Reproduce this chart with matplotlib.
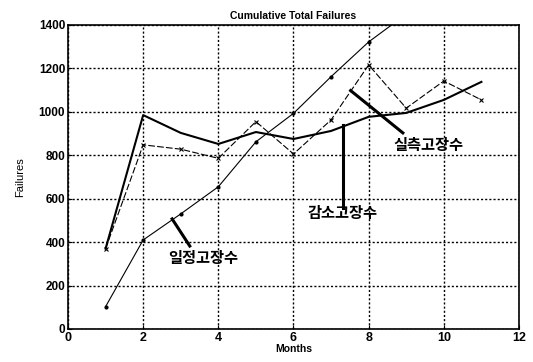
import matplotlib
matplotlib.use("Agg")
import matplotlib.pyplot as plt

months = [1, 2, 3, 4, 5, 6, 7, 8, 9, 10, 11]
decrease = [370, 985, 903, 852, 907, 875, 912, 977, 995, 1055, 1138]
measured = [370, 848, 828, 786, 955, 806, 963, 1216, 1017, 1142, 1055]
const_months = [1, 2, 3, 4, 5, 6, 7, 8, 9]
constant = [103, 410, 530, 655, 862, 993, 1162, 1322, 1450]

xticks = [0, 2, 4, 6, 8, 10, 12]
yticks = [0, 200, 400, 600, 800, 1000, 1200, 1400]

plt.rcParams['font.family'] = ['Liberation Sans', 'Noto Sans CJK KR', 'DejaVu Sans']

fig = plt.figure(figsize=(5.33, 3.62), dpi=100)
ax = fig.add_axes([0.1276, 0.0912, 0.8461, 0.8398])

ax.plot(months, decrease, '-', color='black', lw=1.5)
ax.plot(months, measured, '--', color='black', lw=0.8, marker='x', ms=3, mew=0.8, dashes=(6, 2))
ax.plot(const_months, constant, '-', color='black', lw=0.8, marker='.', ms=4)

ax.set_xlim(0, 12)
ax.set_ylim(0, 1400)
ax.set_xticks(xticks)
ax.set_yticks(yticks)
ax.set_xticklabels([str(v) for v in xticks], fontsize=9, fontweight='bold')
ax.set_yticklabels([str(v) for v in yticks], fontsize=8.5, fontweight='bold')
ax.tick_params(direction='in', length=3, color='black', pad=2)
ax.grid(True, color='black', linestyle=(0, (1.5, 1.5)), linewidth=1.0)
for s in ax.spines.values():
    s.set_linewidth(1.2)
    s.set_color('black')

ax.set_title('Cumulative Total Failures', fontsize=7.5, fontweight='bold', pad=4)
ax.set_xlabel('Months', fontsize=7.5, fontweight='bold', labelpad=0)
ax.set_ylabel('Failures', fontsize=8, labelpad=10)

# annotations
kw = dict(fontsize=11, fontweight='bold', ha='center', va='center', family=['Noto Sans CJK KR'])
ax.plot([7.52, 8.91], [1098, 903], color='black', lw=2.2)
ax.text(9.58, 848, '실측고장수', **kw)
ax.plot([7.31, 7.31], [940, 557], color='black', lw=2.2)
ax.text(7.3, 534, '감소고장수', **kw)
ax.plot([2.77, 3.24], [507, 382], color='black', lw=2.2)
ax.text(3.59, 327, '일정고장수', **kw)

fig.savefig('out.png', dpi=100)
